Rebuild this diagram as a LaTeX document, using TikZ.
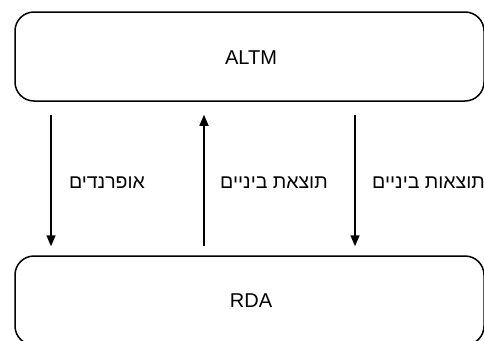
\documentclass[tikz,border=0pt]{standalone}
\usepackage{fontspec}
\setmainfont{Liberation Sans}
\newfontfamily\hebfont[Script=Hebrew]{Liberation Sans}
\TeXXeTstate=1
\usetikzlibrary{arrows.meta}
\begin{document}
\begin{tikzpicture}[x=1pt,y=-1pt,
  box/.style={draw,line width=1.5pt,rounded corners=19pt,inner sep=0pt},
  arr/.style={line width=1.5pt,-{Triangle[length=11pt,width=9pt]}},
  lbl/.style={font=\hebfont\fontsize{19.5}{22}\selectfont,inner sep=0pt},
  ttl/.style={font=\fontsize{20}{22}\selectfont}]
\useasboundingbox (0,0) rectangle (484,340);
\clip (0,0) rectangle (484,340);
\node[box,minimum width=469pt,minimum height=89pt] (top) at (249.5,56.5) {};
\node[ttl] (ttop) at (251,58) {ALTM};
\node[box,minimum width=469pt,minimum height=89pt] (bot) at (249.5,300.5) {};
\node[ttl] (tbot) at (251,301) {RDA};
\coordinate (c1) at (51,0);
\coordinate (c2) at (204,0);
\coordinate (c3) at (355,0);
\draw[arr,shorten <=13pt,shorten >=9pt] (top.south -| c1) -- (bot.north -| c1);
\draw[arr,shorten <=9pt,shorten >=13pt] (bot.north -| c2) -- (top.south -| c2);
\draw[arr,shorten <=13pt,shorten >=9pt] (top.south -| c3) -- (bot.north -| c3);
\node[lbl] (l1) at (107,183) {\beginR אופרנדים\endR};
\node[lbl] (l2) at (274,183) {\beginR תוצאת ביניים\endR};
\node[lbl,anchor=west] (l3) at (372,183) {\beginR תוצאות ביניים\endR};
\end{tikzpicture}
\end{document}
